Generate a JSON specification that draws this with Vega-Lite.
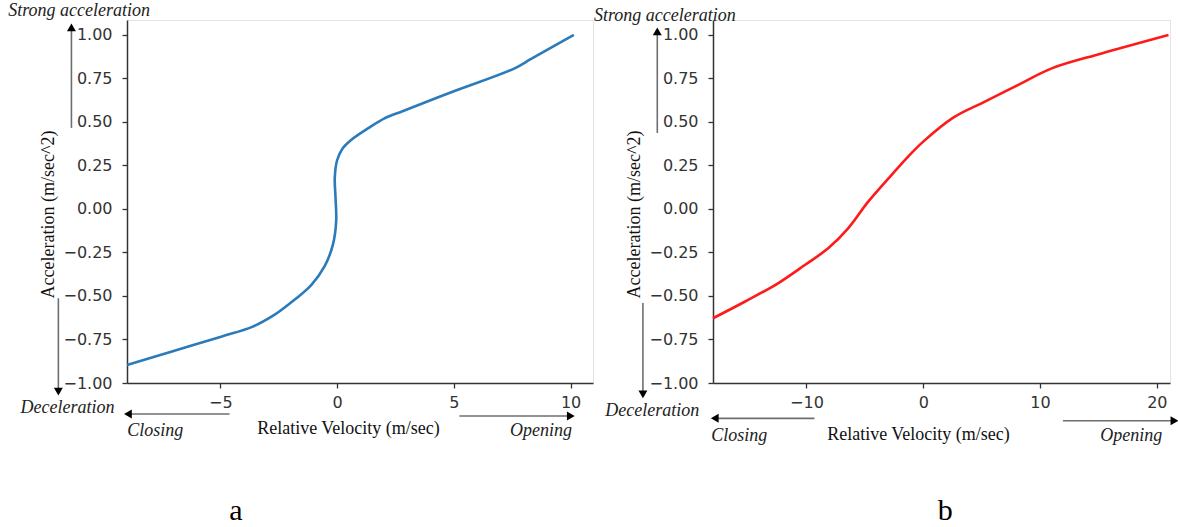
{
  "$schema": "https://vega.github.io/schema/vega-lite/v6.json",
  "padding": {"left": 7, "top": 1, "right": 0, "bottom": 0},
  "background": "white",
  "bounds": "flush",
  "spacing": 120,
  "datasets": {
    "curveA": [
      {"i": 1, "x": -9.0, "y": -0.897}, {"i": 2, "x": -7.11, "y": -0.82}, {"i": 3, "x": -4.97, "y": -0.734},
      {"i": 4, "x": -3.61, "y": -0.676}, {"i": 5, "x": -2.69, "y": -0.609}, {"i": 6, "x": -2.11, "y": -0.552},
      {"i": 7, "x": -1.11, "y": -0.437}, {"i": 8, "x": -0.54, "y": -0.33}, {"i": 9, "x": -0.18, "y": -0.205},
      {"i": 10, "x": -0.04, "y": -0.07}, {"i": 11, "x": -0.07, "y": 0.07}, {"i": 12, "x": -0.1, "y": 0.18},
      {"i": 13, "x": 0.0, "y": 0.28}, {"i": 14, "x": 0.24, "y": 0.349}, {"i": 15, "x": 0.6, "y": 0.397},
      {"i": 16, "x": 1.35, "y": 0.466}, {"i": 17, "x": 2.03, "y": 0.521}, {"i": 18, "x": 2.8, "y": 0.562},
      {"i": 19, "x": 5.03, "y": 0.678}, {"i": 20, "x": 7.6, "y": 0.808}, {"i": 21, "x": 8.31, "y": 0.862},
      {"i": 22, "x": 10.14, "y": 1.0}
    ],
    "curveB": [
      {"i": 1, "x": -18.0, "y": -0.628}, {"i": 2, "x": -15.29, "y": -0.533}, {"i": 3, "x": -12.43, "y": -0.427},
      {"i": 4, "x": -10.14, "y": -0.322}, {"i": 5, "x": -8.14, "y": -0.226}, {"i": 6, "x": -6.43, "y": -0.111},
      {"i": 7, "x": -4.71, "y": 0.042}, {"i": 8, "x": -2.72, "y": 0.195}, {"i": 9, "x": -1.29, "y": 0.301},
      {"i": 10, "x": 0.0, "y": 0.387}, {"i": 11, "x": 2.57, "y": 0.525}, {"i": 12, "x": 5.28, "y": 0.617},
      {"i": 13, "x": 8.14, "y": 0.713}, {"i": 14, "x": 11.0, "y": 0.808}, {"i": 15, "x": 15.28, "y": 0.894},
      {"i": 16, "x": 21.0, "y": 1.0}
    ],
    "shaftsA": [
      {"x": -11.38, "y": 0.466, "x2": -11.38, "y2": 1.029},
      {"x": -11.94, "y": -0.513, "x2": -11.94, "y2": -1.034},
      {"x": -4.61, "y": -1.178, "x2": -8.87, "y2": -1.178},
      {"x": 5.24, "y": -1.19, "x2": 9.89, "y2": -1.19}
    ],
    "headsA": [
      {"x": -11.38, "y": 1.043, "dir": "up"},
      {"x": -11.94, "y": -1.049, "dir": "down"},
      {"x": -8.96, "y": -1.178, "dir": "left"},
      {"x": 10.01, "y": -1.19, "dir": "right"}
    ],
    "notesA": [
      {"x": -14.09, "y": 1.109, "text": "Strong acceleration"},
      {"x": -13.56, "y": -1.171, "text": "Deceleration"},
      {"x": -8.99, "y": -1.305, "text": "Closing"},
      {"x": 7.41, "y": -1.305, "text": "Opening"}
    ],
    "capA": [{"x": -4.33, "y": -1.787, "text": "a"}],
    "shaftsB": [
      {"x": -22.77, "y": 0.437, "x2": -22.77, "y2": 1.006},
      {"x": -24.0, "y": -0.54, "x2": -24.0, "y2": -1.052},
      {"x": -9.31, "y": -1.203, "x2": -17.64, "y2": -1.203},
      {"x": 11.96, "y": -1.217, "x2": 21.32, "y2": -1.217}
    ],
    "headsB": [
      {"x": -22.77, "y": 1.02, "dir": "up"},
      {"x": -24.0, "y": -1.066, "dir": "down"},
      {"x": -17.85, "y": -1.203, "dir": "left"},
      {"x": 21.51, "y": -1.217, "dir": "right"}
    ],
    "notesB": [
      {"x": -28.19, "y": 1.08, "text": "Strong acceleration"},
      {"x": -27.23, "y": -1.19, "text": "Deceleration"},
      {"x": -18.15, "y": -1.333, "text": "Closing"},
      {"x": 15.15, "y": -1.333, "text": "Opening"}
    ],
    "capB": [{"x": 1.88, "y": -1.787, "text": "b"}]
  },
  "hconcat": [
    {
      "width": 466,
      "height": 363,
      "encoding": {
        "x": {"field": "x", "type": "quantitative", "scale": {"domain": [-9, 10.96], "nice": false, "zero": false},
              "axis": {"values": [-5, 0, 5, 10], "format": "d", "title": "Relative Velocity (m/sec)", "titleX": 221, "titleY": 50, "titleAlign": "center", "titleBaseline": "alphabetic", "labelPadding": 6}},
        "y": {"field": "y", "type": "quantitative", "scale": {"domain": [-1, 1.086], "nice": false, "zero": false},
              "axis": {"values": [-1, -0.75, -0.5, -0.25, 0, 0.25, 0.5, 0.75, 1], "format": ".2f", "title": "Acceleration (m/sec^2)", "titleX": -74, "titleY": 194, "titleAngle": 270, "titleAlign": "center", "titleBaseline": "alphabetic", "labelPadding": 10}}
      },
      "layer": [
        {"data": {"name": "curveA"}, "mark": {"type": "line", "color": "#2b7bba", "strokeWidth": 2.6, "interpolate": "catmull-rom"}, "encoding": {"order": {"field": "i", "type": "quantitative"}}},
        {"data": {"name": "shaftsA"}, "mark": {"type": "rule", "color": "#6e6e6e", "strokeWidth": 1.6}, "encoding": {"x2": {"field": "x2"}, "y2": {"field": "y2"}}},
        {"data": {"name": "headsA"}, "mark": {"type": "point", "filled": true, "color": "#000", "opacity": 1, "size": 80},
         "encoding": {"shape": {"field": "dir", "type": "nominal", "scale": {"domain": ["up", "down", "left", "right"], "range": ["triangle-up", "triangle-down", "triangle-left", "triangle-right"]}, "legend": null}}},
        {"data": {"name": "notesA"}, "mark": {"type": "text", "font": "Liberation Serif", "fontStyle": "italic", "fontSize": 18, "align": "left", "baseline": "alphabetic", "color": "#222"}, "encoding": {"text": {"field": "text"}}},
        {"data": {"name": "capA"}, "mark": {"type": "text", "font": "Liberation Serif", "fontSize": 30, "align": "center", "baseline": "alphabetic", "color": "#000"}, "encoding": {"text": {"field": "text"}}}
      ]
    },
    {
      "width": 457,
      "height": 363,
      "encoding": {
        "x": {"field": "x", "type": "quantitative", "scale": {"domain": [-18, 21.13], "nice": false, "zero": false},
              "axis": {"values": [-10, 0, 10, 20], "format": "d", "title": "Relative Velocity (m/sec)", "titleX": 205, "titleY": 56, "titleAlign": "center", "titleBaseline": "alphabetic", "labelPadding": 6}},
        "y": {"field": "y", "type": "quantitative", "scale": {"domain": [-1, 1.086], "nice": false, "zero": false},
              "axis": {"values": [-1, -0.75, -0.5, -0.25, 0, 0.25, 0.5, 0.75, 1], "format": ".2f", "title": "Acceleration (m/sec^2)", "titleX": -74, "titleY": 194, "titleAngle": 270, "titleAlign": "center", "titleBaseline": "alphabetic", "labelPadding": 10}}
      },
      "layer": [
        {"data": {"name": "curveB"}, "mark": {"type": "line", "color": "#ff1a1a", "strokeWidth": 2.6, "interpolate": "catmull-rom"}, "encoding": {"order": {"field": "i", "type": "quantitative"}}},
        {"data": {"name": "shaftsB"}, "mark": {"type": "rule", "color": "#6e6e6e", "strokeWidth": 1.6}, "encoding": {"x2": {"field": "x2"}, "y2": {"field": "y2"}}},
        {"data": {"name": "headsB"}, "mark": {"type": "point", "filled": true, "color": "#000", "opacity": 1, "size": 80},
         "encoding": {"shape": {"field": "dir", "type": "nominal", "scale": {"domain": ["up", "down", "left", "right"], "range": ["triangle-up", "triangle-down", "triangle-left", "triangle-right"]}, "legend": null}}},
        {"data": {"name": "notesB"}, "mark": {"type": "text", "font": "Liberation Serif", "fontStyle": "italic", "fontSize": 18, "align": "left", "baseline": "alphabetic", "color": "#222"}, "encoding": {"text": {"field": "text"}}},
        {"data": {"name": "capB"}, "mark": {"type": "text", "font": "Liberation Serif", "fontSize": 30, "align": "center", "baseline": "alphabetic", "color": "#000"}, "encoding": {"text": {"field": "text"}}}
      ]
    }
  ],
  "config": {
    "view": {"stroke": "#e3e3e3"},
    "axis": {"grid": false, "domainColor": "#333", "domainWidth": 1.5, "tickColor": "#333", "tickSize": 5, "tickWidth": 1.3,
             "labelFont": "DejaVu Sans", "labelFontSize": 16, "labelColor": "#333",
             "titleFont": "Liberation Serif", "titleFontSize": 18, "titleFontWeight": "normal", "titleColor": "#111"}
  }
}
